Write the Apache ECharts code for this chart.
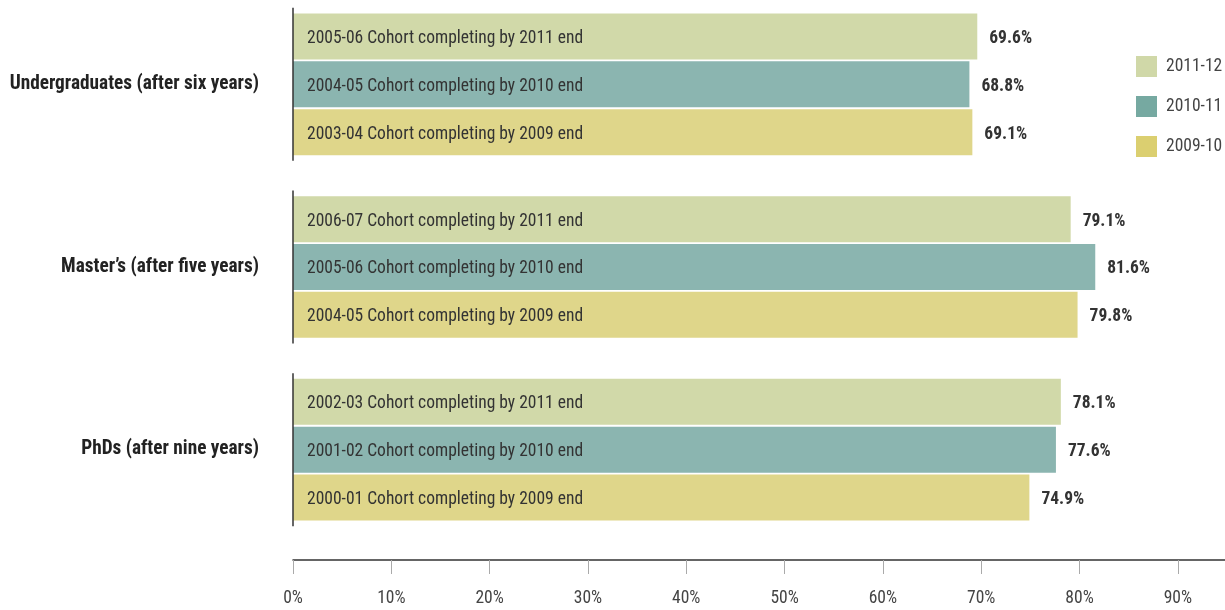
<!DOCTYPE html>
<html>
<head>
<meta charset="utf-8">
<script src="https://cdn.jsdelivr.net/npm/echarts@6/dist/echarts.min.js"></script>
<style>
html,body{margin:0;padding:0;background:#fff;}
#chart{width:1225px;height:610px;}
</style>
</head>
<body>
<div id="chart"></div>
<script>
const categories = ["Undergraduates (after six years)", "Master\u2019s (after five years)", "PhDs (after nine years)"];
const seriesNames = ["2011-12", "2010-11", "2009-10"];
const values2011 = [69.6, 79.1, 78.1];
const values2010 = [68.8, 81.6, 77.6];
const values2009 = [69.1, 79.8, 74.9];
const cohorts2011 = ["2005-06 Cohort completing by 2011 end", "2006-07 Cohort completing by 2011 end", "2002-03 Cohort completing by 2011 end"];
const cohorts2010 = ["2004-05 Cohort completing by 2010 end", "2005-06 Cohort completing by 2010 end", "2001-02 Cohort completing by 2010 end"];
const cohorts2009 = ["2003-04 Cohort completing by 2009 end", "2004-05 Cohort completing by 2009 end", "2000-01 Cohort completing by 2009 end"];
const xTicks = [0, 10, 20, 30, 40, 50, 60, 70, 80, 90];

const barColors = ["#d1d9a9", "#8bb5b0", "#dfd68a"];
const legendColors = ["#d0d8a8", "#76a9a1", "#dbcf70"];
const FONT = "'Roboto Condensed', 'Liberation Sans Narrow', sans-serif";

const allValues = [values2011, values2010, values2009];
const allCohorts = [cohorts2011, cohorts2010, cohorts2009];

const series = [];
allValues.forEach((vals, s) => {
  const stack = "s" + s;
  series.push({
    name: seriesNames[s],
    type: "bar",
    stack: stack,
    barWidth: 46,
    barGap: "4%",
    data: vals,
    itemStyle: { color: barColors[s] },
    label: {
      show: true,
      position: "insideLeft",
      distance: 14,
      fontFamily: FONT,
      fontSize: 17.5,
      color: "#333",
      offset: [0, 2],
      formatter: p => allCohorts[s][p.dataIndex]
    },
    emphasis: { disabled: true },
    z: 2
  });
  series.push({
    name: seriesNames[s] + " value",
    type: "bar",
    stack: stack,
    barWidth: 46,
    barGap: "4%",
    data: vals.map(() => 0),
    itemStyle: { color: "transparent" },
    label: {
      show: true,
      position: "right",
      distance: 12,
      fontFamily: FONT,
      fontSize: 17.5,
      fontWeight: "bold",
      color: "#333",
      offset: [0, 2],
      formatter: p => vals[p.dataIndex].toFixed(1) + "%"
    },
    emphasis: { disabled: true },
    z: 2
  });
});

series.push({
  type: "custom",
  name: "groupLines",
  data: categories.map((c, i) => [0, i]),
  encode: { x: 0, y: 1 },
  silent: true,
  z: 5,
  renderItem: function (params, api) {
    const pt = api.coord([api.value(0), api.value(1)]);
    const band = api.size([0, 1])[1];
    const half = band * 0.419;
    return {
      type: "line",
      shape: { x1: pt[0], y1: pt[1] - half, x2: pt[0], y2: pt[1] + half },
      style: { stroke: "#333", lineWidth: 1.5 }
    };
  }
});

const chart = echarts.init(document.getElementById("chart"), null, { renderer: "canvas" });
chart.setOption({
  animation: false,
  backgroundColor: "#fff",
  grid: { left: 293, right: -2, top: -7, height: 548, containLabel: false, outerBoundsMode: "none" },
  legend: {
    orient: "vertical",
    left: 1136,
    top: 56,
    padding: 0,
    itemWidth: 21,
    itemHeight: 21,
    itemGap: 19,
    icon: "rect",
    selectedMode: false,
    textStyle: { fontFamily: FONT, fontSize: 17.5, color: "#444", padding: [2, 0, 0, 4] },
    data: seriesNames.map((n, i) => ({ name: n, itemStyle: { color: legendColors[i] } }))
  },
  xAxis: {
    type: "value",
    min: 0,
    max: 95,
    interval: 10,
    offset: 19,
    axisLine: { show: true, lineStyle: { color: "#333", width: 1.5 } },
    axisTick: { show: true, length: 14, lineStyle: { color: "#aaa", width: 1 }, customValues: xTicks },
    axisLabel: {
      margin: 30,
      fontFamily: FONT,
      fontSize: 17.5,
      color: "#444",
      customValues: xTicks,
      formatter: v => v + "%"
    },
    splitLine: { show: false }
  },
  yAxis: {
    type: "category",
    data: categories,
    inverse: true,
    axisLine: { show: false },
    axisTick: { show: false },
    axisLabel: {
      margin: 34,
      fontFamily: FONT,
      fontSize: 19.3,
      fontWeight: "bold",
      color: "#222"
    }
  },
  series: series
});
</script>
</body>
</html>
